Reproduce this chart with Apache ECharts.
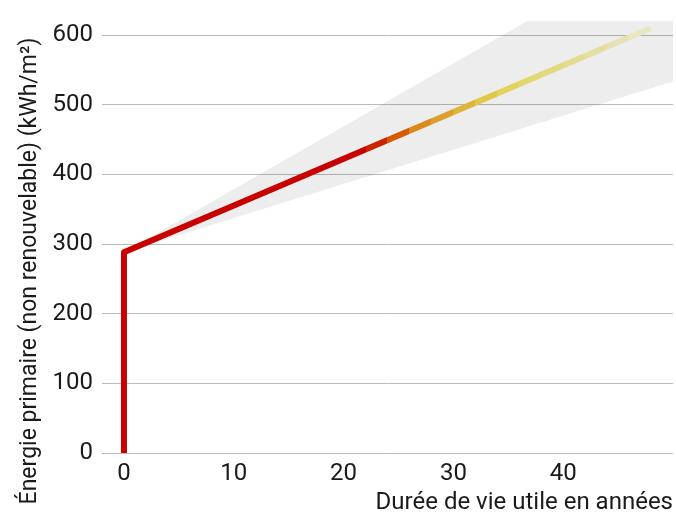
<!DOCTYPE html>
<html>
<head>
<meta charset="utf-8">
<script src="https://cdn.jsdelivr.net/npm/echarts@6/dist/echarts.min.js"></script>
<style>
  html, body { margin: 0; padding: 0; background: #fff; }
  #chart { width: 676px; height: 515px; }
</style>
</head>
<body>
<div id="chart"></div>
<script>
// line: vertical rise at year 0, then linear growth
var lineX = [0, 0, 48]
var lineY = [0, 288, 610]

// uncertainty cone (grey)
var bandX = [0, 50]
var bandLow = [288, 533]
var bandHigh = [288, 740]

// colour of the line by year (piece starts)
var colourYears = [0, 22, 24, 26, 28, 30, 32, 34, 36, 38, 40, 42, 44, 46]
var colourList = ['#c80000', '#cc2200', '#d55a00', '#d98a1a', '#dca030', '#dfb43a', '#e2c84a',
  '#e2d45a', '#e2d870', '#e2da80', '#e3dc90', '#e4dea0', '#e6e2b4', '#e9e6c4']

var yTicks = [0, 100, 200, 300, 400, 500, 600]
var xTicks = [0, 10, 20, 30, 40]

var lineData = lineX.map(function(x, i) { return [x, lineY[i]] })
var bandData = bandX.map(function(x, i) { return [x, bandLow[i], bandHigh[i]] })

var pieces = colourYears.map(function(y, i) {
  var p = { gte: y, color: colourList[i] }
  if (i < colourYears.length - 1) p.lt = colourYears[i + 1]
  if (i === 0) { delete p.gte; p.lt = colourYears[1] }
  return p
})

var font = 'Roboto'
var chart = echarts.init(document.getElementById('chart'))
var option = {
  animation: false,
  grid: { left: 102, right: 3, top: 21, bottom: 61, containLabel: false },
  xAxis: {
    type: 'value',
    min: -2,
    max: 50,
    name: 'Durée de vie utile en années',
    nameLocation: 'end',
    nameGap: 0,
    nameTextStyle: {
      fontFamily: font, fontSize: 24, color: '#1a1a1a',
      align: 'right', verticalAlign: 'top', padding: [38, 0, 0, 0]
    },
    axisLine: { show: false },
    axisTick: { show: false },
    splitLine: { show: false },
    axisLabel: {
      customValues: xTicks,
      margin: 9,
      fontFamily: font, fontSize: 24, color: '#1a1a1a'
    }
  },
  yAxis: {
    type: 'value',
    min: 0,
    max: 620,
    interval: 100,
    name: 'Énergie primaire (non renouvelable) (kWh/m²)',
    nameLocation: 'middle',
    nameGap: 59,
    nameTextStyle: {
      fontFamily: font, fontSize: 23, color: '#1a1a1a', padding: [0, 68, 0, 0]
    },
    axisLine: { show: false },
    axisTick: { show: false },
    splitLine: {
      show: true,
      lineStyle: {
        color: yTicks.map(function() { return '#bbbbbb' }).concat(['rgba(0,0,0,0)']),
        width: 1
      }
    },
    axisLabel: {
      showMaxLabel: false,
      margin: 9,
      fontFamily: font, fontSize: 24, color: '#1a1a1a'
    }
  },
  visualMap: {
    show: false,
    type: 'piecewise',
    seriesIndex: 1,
    dimension: 0,
    pieces: pieces
  },
  series: [
    {
      type: 'custom',
      clip: true,
      silent: true,
      data: bandData,
      renderItem: function(params, api) {
        if (params.dataIndex !== 0) return
        var pts = []
        bandData.forEach(function(d) { pts.push(api.coord([d[0], d[2]])) })
        bandData.slice().reverse().forEach(function(d) { pts.push(api.coord([d[0], d[1]])) })
        return {
          type: 'polygon',
          shape: { points: pts },
          style: { fill: 'rgba(0,0,0,0.07)' }
        }
      },
      z: 1
    },
    {
      type: 'line',
      data: lineData,
      showSymbol: false,
      silent: true,
      lineStyle: { width: 6, join: 'round', cap: 'butt' },
      z: 3
    }
  ]
}
chart.setOption(option)
window.addEventListener('resize', function() {
  chart.resize()
})
</script>
</body>
</html>
